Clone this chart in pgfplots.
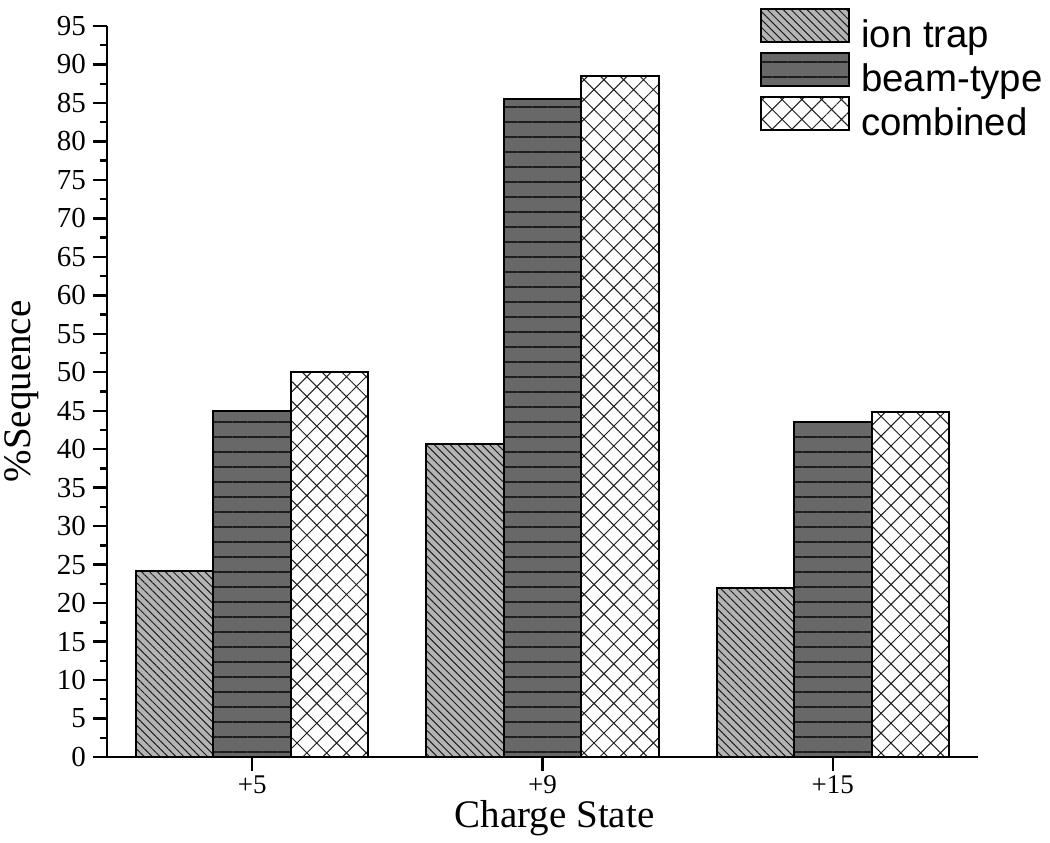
\documentclass[border=0pt]{standalone}
\usepackage{fontspec}
\setmainfont{Liberation Serif}
\newfontfamily\legendfont{Liberation Sans}
\usepackage{pgfplots}
\pgfplotsset{compat=1.18}
\usetikzlibrary{patterns.meta}
\definecolor{iontrap}{RGB}{180,180,180}
\definecolor{beam}{RGB}{104,104,104}
\definecolor{hatchline}{RGB}{30,30,30}

\begin{document}
\begin{tikzpicture}
\begin{axis}[
  scale only axis, width=435.5pt, height=365.5pt,
  ybar=0pt, bar width=38.75pt,
  xmin=-0.5, xmax=2.5, ymin=0, ymax=95,
  xtick={0,1,2}, xticklabels={+5,+9,+15},
  ytick={0,5,...,95}, minor y tick num=1,
  axis x line=bottom, axis y line=left,
  axis line style={line width=1.3pt,-},
  tick align=outside, major tick length=7pt, minor tick length=3.5pt,
  every tick/.append style={black,line width=1.2pt},
  /pgf/number format/assume math mode=true,
  yticklabel style={font=\fontsize{14.5}{16}\selectfont},
  xticklabel style={font=\fontsize{13.5}{15}\selectfont, inner sep=2pt},
  ylabel={\%Sequence}, xlabel={Charge State},
  every axis y label/.style={at={([xshift=-42.5pt]axis description cs:0,0.5)}, rotate=90, anchor=center,
    font=\fontsize{19.5}{22}\selectfont},
  every axis x label/.style={at={([xshift=6pt,yshift=-30.5pt]axis description cs:0.5,0)}, anchor=center,
    font=\fontsize{19.5}{22}\selectfont, inner sep=1pt},
  legend style={draw=none, fill=none, at={(1,1)}, anchor=north east,
    xshift=32.5pt, yshift=9pt, inner sep=0pt,
    font=\legendfont\fontsize{19.2}{23}\selectfont,
    row sep=-1.5pt, column sep=5.5pt,
    nodes={inner sep=0pt, text height=14pt, text depth=4pt},
    cells={anchor=west}},
  legend image code/.code={\draw[#1] (0pt,-2.5pt) rectangle (44pt,14pt);},
  every axis plot/.append style={draw=black, line width=1pt},
]
\addplot[fill=iontrap, postaction={pattern={Lines[angle=-45,distance=2.8pt,line width=0.5pt]}, pattern color=hatchline}]
  coordinates {(0,24.2) (1,40.7) (2,22.0)};
\addplot[fill=beam, postaction={pattern={Lines[angle=0,distance=7.5pt,line width=0.6pt]}, pattern color=hatchline}]
  coordinates {(0,45.0) (1,85.5) (2,43.5)};
\addplot[fill=white, postaction={pattern={Hatch[angle=45,distance=7pt,line width=0.5pt]}, pattern color=hatchline}]
  coordinates {(0,50.0) (1,88.5) (2,44.9)};
\legend{ion trap,beam-type,combined}
\end{axis}
\pgfresetboundingbox
\path ([shift={(-53.5pt,-42.5pt)}]current axis.south west) rectangle ([shift={(36pt,13pt)}]current axis.north east);
\end{tikzpicture}
\end{document}
